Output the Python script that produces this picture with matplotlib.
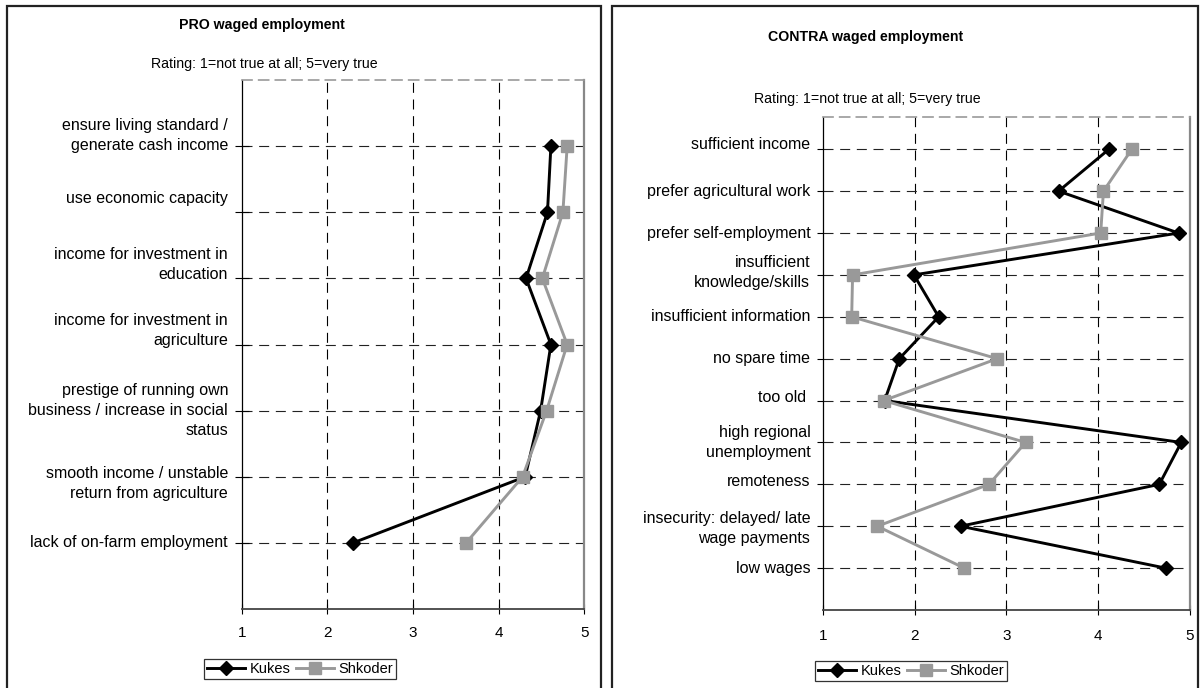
import matplotlib
matplotlib.use('Agg')
import matplotlib.pyplot as plt
from matplotlib.patches import Rectangle
from matplotlib.lines import Line2D

plt.rcParams['font.family'] = ['Liberation Sans', 'DejaVu Sans']

# ---------------- data ----------------
pro_labels = [
    "ensure living standard /\ngenerate cash income",
    "use economic capacity",
    "income for investment in\neducation",
    "income for investment in\nagriculture",
    "prestige of running own\nbusiness / increase in social\nstatus",
    "smooth income / unstable\nreturn from agriculture",
    "lack of on-farm employment",
]
pro_kukes = [4.61, 4.57, 4.32, 4.61, 4.49, 4.31, 2.30]
pro_shkoder = [4.80, 4.75, 4.51, 4.80, 4.56, 4.28, 3.62]

contra_labels = [
    "sufficient income",
    "prefer agricultural work",
    "prefer self-employment",
    "insufficient\nknowledge/skills",
    "insufficient information",
    "no spare time",
    "too old ",
    "high regional\nunemployment",
    "remoteness",
    "insecurity: delayed/ late\nwage payments",
    "low wages",
]
contra_kukes = [4.12, 3.57, 4.88, 1.99, 2.26, 1.83, 1.67, 4.91, 4.67, 2.50, 4.74]
contra_shkoder = [4.37, 4.06, 4.03, 1.32, 1.31, 2.90, 1.66, 3.21, 2.81, 1.59, 2.54]

x_ticks = [1, 2, 3, 4, 5]
series_names = ["Kukes", "Shkoder"]
title_pro = "PRO waged employment"
title_contra = "CONTRA waged employment"
subtitle = "Rating: 1=not true at all; 5=very true"

# label vertical offsets (px, + = down) to mimic the original placement
pro_label_offsets = [-10.5, -13.5, -13.8, -13.8, 0, 6.8, 0]
contra_label_offsets = [-4.3, 0, 0, -2.3, 0, 0, -2.7, 0, -2.6, 1.8, 0]

# ---------------- figure ----------------
W, H = 1201, 688
fig = plt.figure(figsize=(W / 100, H / 100), dpi=100)
PX = 72 / 100  # points per pixel


def frac(x0, y0, x1, y1):
    return [x0 / W, 1 - y1 / H, (x1 - x0) / W, (y1 - y0) / H]


# panel borders
for (x0, x1) in [(7, 601), (612, 1198)]:
    fig.patches.append(Rectangle((x0 / W, -0.02), (x1 - x0) / W, 1 - 6 / H + 0.02,
                                 transform=fig.transFigure, fill=False,
                                 edgecolor='#222222', lw=1.6, zorder=0))

KC = 'black'
SC = '#999999'
K_MS = 7.0
S_MS = 8.5


def draw_panel(ax, labels, kukes, shkoder, ylim, offsets, ydir, ylen, label_pad_px, xpad):
    y = list(range(len(labels)))
    ax.set_xlim(x_ticks[0], x_ticks[-1])
    ax.set_ylim(*ylim)
    for v in x_ticks[1:-1]:
        ax.axvline(v, color='black', lw=0.8, dashes=(9, 6), zorder=1)
    for v in y:
        ax.axhline(v, color='#222222', lw=0.8, dashes=(9, 6), zorder=1)
    ax.plot(kukes, y, color=KC, lw=2.1, marker='D', ms=K_MS, mec=KC, mfc=KC, zorder=3)
    ax.plot(shkoder, y, color=SC, lw=2.1, marker='s', ms=S_MS, mec=SC, mfc=SC, zorder=4)
    ax.set_xticks(x_ticks)
    ax.set_xticklabels([str(t) for t in x_ticks])
    ax.set_yticks(y)
    ax.set_yticklabels([''] * len(y))
    ax.tick_params(axis='y', direction=ydir, length=ylen, width=0.8, color='black')
    ax.tick_params(axis='x', direction='inout', length=7, width=0.8, color='black',
                   labelsize=11, pad=xpad)
    for lab, yy, off in zip(labels, y, offsets):
        ax.annotate(lab, xy=(0, yy), xycoords=('axes fraction', 'data'),
                    xytext=(-label_pad_px * PX, -off * PX), textcoords='offset points',
                    ha='right', va='center', multialignment='right',
                    fontsize=11.5, linespacing=1.42, color='black')
    ax.spines['left'].set_color('black')
    ax.spines['left'].set_linewidth(0.9)
    ax.spines['bottom'].set_color('#444444')
    ax.spines['bottom'].set_linewidth(1.3)
    ax.spines['right'].set_color('#888888')
    ax.spines['right'].set_linewidth(1.6)
    ax.spines['top'].set_color('#999999')
    ax.spines['top'].set_linewidth(1.2)
    ax.spines['top'].set_linestyle((0, (6, 4)))
    ax.set_facecolor('white')


ax1 = fig.add_axes(frac(241.7, 80, 584.3, 609))
draw_panel(ax1, pro_labels, pro_kukes, pro_shkoder, (7, -1), pro_label_offsets,
           'inout', 10, 13.7, 9)

ax2 = fig.add_axes(frac(823.3, 117, 1189.5, 610))
draw_panel(ax2, contra_labels, contra_kukes, contra_shkoder, (11, -0.77),
           contra_label_offsets, 'out', 4, 13.0, 10)

# titles
fig.text(261.5 / W, 1 - 25 / H, title_pro, ha='center', va='center',
         fontsize=10.2, fontweight='bold')
fig.text(264 / W, 1 - 64 / H, subtitle, ha='center', va='center', fontsize=10.2)
fig.text(866 / W, 1 - 37 / H, title_contra, ha='center', va='center',
         fontsize=10.2, fontweight='bold')
fig.text(867 / W, 1 - 99 / H, subtitle, ha='center', va='center', fontsize=10.2)

# legends
handles = [
    Line2D([], [], color=KC, lw=2.1, marker='D', ms=K_MS, mec=KC, mfc=KC),
    Line2D([], [], color=SC, lw=2.1, marker='s', ms=S_MS, mec=SC, mfc=SC),
]
for cx, cy in [(300, 669.3), (911.3, 670.7)]:
    leg = fig.legend(handles, series_names, loc='center',
                     bbox_to_anchor=(cx / W, 1 - cy / H), ncol=2, frameon=True,
                     fancybox=False, edgecolor='black', fontsize=10.5,
                     handlelength=2.6, handletextpad=0.3, columnspacing=0.4,
                     borderpad=0.2, borderaxespad=0)
    leg.get_frame().set_linewidth(0.9)

fig.savefig('out.png', dpi=100, facecolor='white')
